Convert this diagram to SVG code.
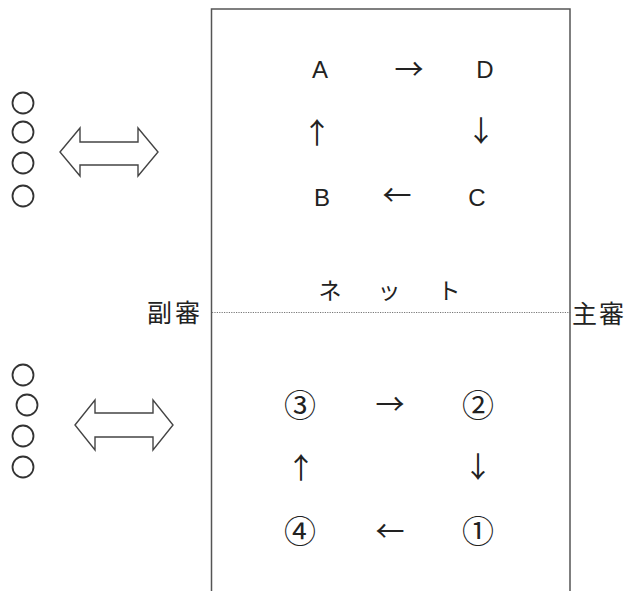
<svg xmlns="http://www.w3.org/2000/svg" width="627" height="591" viewBox="0 0 627 591">
<style>
.lat{font-family:"Liberation Sans",Arial,sans-serif;font-size:24px;fill:#222;text-anchor:middle}
.cjk{font-family:"Noto Sans CJK JP","Noto Sans",sans-serif;fill:#222;text-anchor:middle}
.arr{font-family:"Noto Sans CJK JP",sans-serif;font-size:29px;fill:#222;text-anchor:middle}
.num{font-family:"Noto Sans CJK JP",sans-serif;font-size:32px;fill:#222;text-anchor:middle}
.pl{fill:none;stroke:#333;stroke-width:1.8}
.dbl{fill:#fff;stroke:#444;stroke-width:1.4;stroke-linejoin:miter}
</style>
<rect width="627" height="591" fill="#fff"/>
<g id="court">
<path d="M211.5,591 V9 H570 V591" fill="none" stroke="#555" stroke-width="1.5"/>
<line id="net" x1="212" y1="312.5" x2="572" y2="312.5" stroke="#777" stroke-width="1" stroke-dasharray="1.2,1.2"/>
</g>
<g id="players-top">
<circle class="pl" cx="23" cy="103" r="10.5"/>
<circle class="pl" cx="23" cy="132" r="10.5"/>
<circle class="pl" cx="23" cy="163" r="10.5"/>
<circle class="pl" cx="23" cy="196" r="10.5"/>
</g>
<g id="players-bottom">
<circle class="pl" cx="23" cy="375" r="10.5"/>
<circle class="pl" cx="27" cy="405" r="10.5"/>
<circle class="pl" cx="23" cy="436" r="10.5"/>
<circle class="pl" cx="23" cy="467" r="10.5"/>
</g>
<g id="swap-top">
<path class="dbl" d="M60,152 L80,128 V142 H138 V128 L158,152 L138,176 V165 H80 V176 Z"/>
</g>
<g id="swap-bottom">
<path class="dbl" d="M75,425 L95,400 V413 H153 V400 L173,425 L153,450 V437 H95 V450 Z"/>
</g>
<g id="labels-top">
<text class="lat" x="320" y="78">A</text>
<text class="arr" x="409" y="80">→</text>
<text class="lat" x="485" y="78">D</text>
<text class="arr" x="317" y="144">↑</text>
<text class="arr" x="481" y="142">↓</text>
<text class="lat" x="322" y="206">B</text>
<text class="arr" x="397" y="206">←</text>
<text class="lat" x="477" y="206">C</text>
</g>
<g id="net-label">
<text class="cjk" x="330" y="299" font-size="23">ネ</text>
<text class="cjk" x="389" y="299" font-size="23">ッ</text>
<text class="cjk" x="449" y="299" font-size="23">ト</text>
</g>
<g id="referees">
<text class="cjk" x="175" y="322" font-size="25" letter-spacing="3">副審</text>
<text class="cjk" x="599" y="323" font-size="25" letter-spacing="2">主審</text>
</g>
<g id="labels-bottom">
<text class="num" x="300" y="417">③</text>
<text class="arr" x="390" y="415">→</text>
<text class="num" x="478" y="417">②</text>
<text class="arr" x="301" y="479">↑</text>
<text class="arr" x="478" y="478">↓</text>
<text class="num" x="300" y="543">④</text>
<text class="arr" x="390" y="542">←</text>
<text class="num" x="478" y="543">①</text>
</g>
</svg>
